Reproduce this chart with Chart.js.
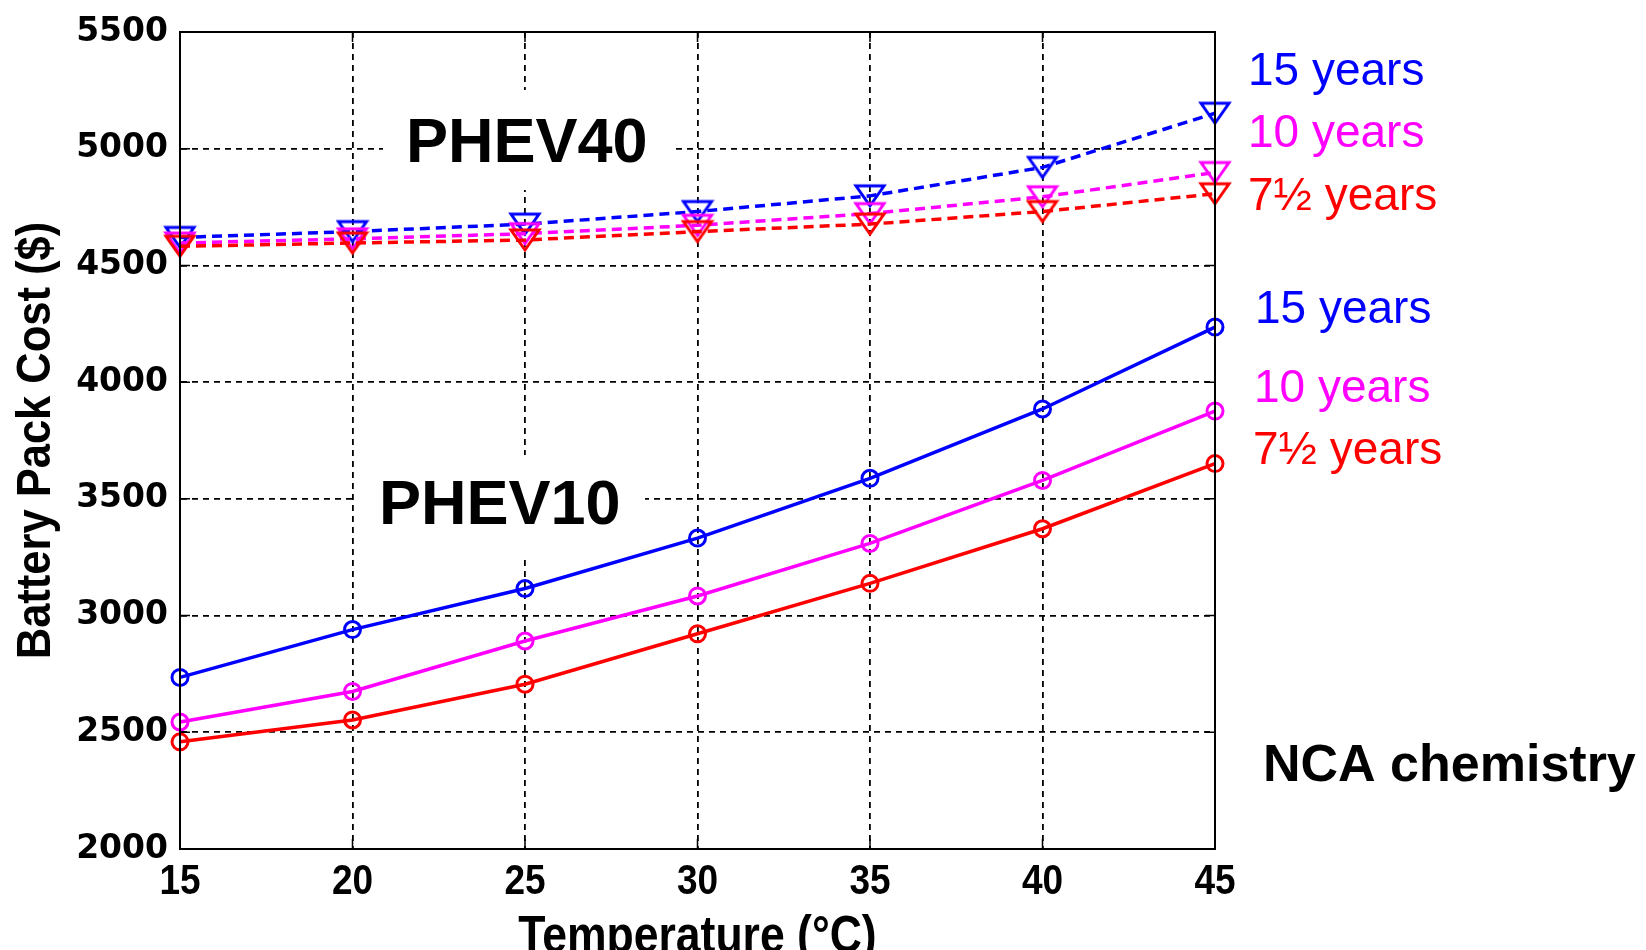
<!DOCTYPE html>
<html>
<head>
<meta charset="utf-8">
<script src="https://cdn.jsdelivr.net/npm/chart.js@4.4.0/dist/chart.umd.min.js"></script>
<style>
  html, body { margin: 0; padding: 0; background: #fff; overflow: hidden; }
</style>
</head>
<body>
<canvas id="myChart" width="1646" height="950"></canvas>
<script>
const temps = [15, 20, 25, 30, 35, 40, 45];
const xTicks = [15, 20, 25, 30, 35, 40, 45];
const yTicks = [2000, 2500, 3000, 3500, 4000, 4500, 5000, 5500];

// PHEV10 (solid, circles)
const phev10_15yr = [2735, 2940, 3116, 3332, 3588, 3885, 4236];
const phev10_10yr = [2544, 2675, 2891, 3084, 3309, 3579, 3876];
const phev10_7yr = [2459, 2553, 2706, 2922, 3138, 3372, 3651];

// PHEV40 (dashed, triangles)
const phev40_15yr = [4620, 4645, 4677, 4731, 4798, 4920, 5152];
const phev40_10yr = [4596, 4614, 4636, 4672, 4722, 4794, 4898];
const phev40_7yr = [4582, 4596, 4609, 4645, 4677, 4731, 4807];

const BLUE = "#0000ff", MAGENTA = "#ff00ff", RED = "#ff0000";
const ctx = document.getElementById("myChart").getContext("2d");

function triMarker(color) {
  const c = document.createElement("canvas");
  c.width = 34;
  c.height = 28;
  const g = c.getContext("2d");
  g.strokeStyle = color;
  g.lineWidth = 3;
  g.lineJoin = "miter";
  g.beginPath();
  g.moveTo(3, 4);
  g.lineTo(31, 4);
  g.lineTo(17, 24);
  g.closePath();
  g.stroke();
  return c;
}

function toPoints(vals) {
  return vals.map((v, i) => ({ x: temps[i], y: v }));
}

function solidSet(vals, color) {
  return {
    data: toPoints(vals),
    borderColor: color,
    borderWidth: 3.5,
    pointStyle: "circle",
    pointRadius: 8,
    pointBorderWidth: 3,
    pointBorderColor: color,
    pointBackgroundColor: "rgba(0,0,0,0)",
    fill: false,
    tension: 0,
    clip: false,
  };
}

function dashedSet(vals, color) {
  return {
    data: toPoints(vals),
    borderColor: color,
    borderWidth: 3.5,
    borderDash: [10, 6],
    pointStyle: triMarker(color),
    pointRadius: 14,
    fill: false,
    tension: 0,
    clip: false,
  };
}

function narrowText(c, text, x, y, sx) {
  c.save();
  c.translate(x, y);
  c.scale(sx, 1);
  c.fillText(text, 0, 0);
  c.restore();
}

const frame = {
  id: "frame",
  beforeDatasetsDraw(chart) {
    const c = chart.ctx;
    c.save();
    c.font = "bold 63px 'Liberation Sans', Arial, sans-serif";
    c.textBaseline = "alphabetic";
    c.fillStyle = "#fff";
    c.fillRect(383, 90, 290, 100);
    c.fillRect(357, 455, 288, 100);
    c.fillStyle = "#000";
    c.fillText("PHEV40", 406, 162);
    c.fillText("PHEV10", 379, 524);
    c.restore();
  },
  afterDraw(chart) {
    const c = chart.ctx;
    const a = chart.chartArea;
    const xs = chart.scales.x, ys = chart.scales.y;
    c.save();
    // inward tick marks
    c.strokeStyle = "#000";
    c.lineWidth = 1.5;
    c.beginPath();
    xTicks.forEach((t) => {
      const px = xs.getPixelForValue(t);
      c.moveTo(px, a.bottom); c.lineTo(px, a.bottom - 10);
      c.moveTo(px, a.top); c.lineTo(px, a.top + 10);
    });
    yTicks.forEach((t) => {
      const py = ys.getPixelForValue(t);
      c.moveTo(a.left, py); c.lineTo(a.left + 10, py);
      c.moveTo(a.right, py); c.lineTo(a.right - 10, py);
    });
    c.stroke();
    // box
    c.lineWidth = 2;
    c.strokeRect(a.left, a.top, a.right - a.left, a.bottom - a.top);

    // x tick labels (condensed)
    c.fillStyle = "#000";
    c.textAlign = "center";
    c.textBaseline = "alphabetic";
    c.font = "bold 43px 'Liberation Sans', Arial, sans-serif";
    xTicks.forEach((t) => {
      narrowText(c, String(t), xs.getPixelForValue(t), 894, 0.86);
    });

    // axis titles
    c.font = "bold 52px 'Liberation Sans', Arial, sans-serif";
    narrowText(c, "Temperature (°C)", (a.left + a.right) / 2, 952, 0.856);
    c.save();
    c.translate(50, (a.top + a.bottom) / 2);
    c.rotate(-Math.PI / 2);
    c.font = "bold 48px 'Liberation Sans', Arial, sans-serif";
    c.scale(0.906, 1);
    c.fillText("Battery Pack Cost ($)", 0, 0);
    c.restore();

    // series labels
    c.textAlign = "left";
    c.font = "46px 'Liberation Sans', Arial, sans-serif";
    c.fillStyle = BLUE; c.fillText("15 years", 1248, 85);
    c.fillStyle = MAGENTA; c.fillText("10 years", 1248, 147);
    c.fillStyle = RED; c.fillText("7½ years", 1248, 210);
    c.fillStyle = BLUE; c.fillText("15 years", 1255, 323);
    c.fillStyle = MAGENTA; c.fillText("10 years", 1254, 402);
    c.fillStyle = RED; c.fillText("7½ years", 1253, 464);

    c.fillStyle = "#000";
    c.font = "bold 52px 'Liberation Sans', Arial, sans-serif";
    c.fillText("NCA chemistry", 1263, 781);
    c.restore();
  },
};

new Chart(ctx, {
  type: "line",
  data: {
    datasets: [
      solidSet(phev10_7yr, RED),
      solidSet(phev10_10yr, MAGENTA),
      solidSet(phev10_15yr, BLUE),
      dashedSet(phev40_7yr, RED),
      dashedSet(phev40_10yr, MAGENTA),
      dashedSet(phev40_15yr, BLUE),
    ],
  },
  options: {
    responsive: false,
    animation: false,
    devicePixelRatio: 1,
    layout: { padding: { top: 32, right: 431, left: 0, bottom: 0 } },
    plugins: { legend: { display: false }, tooltip: { enabled: false } },
    scales: {
      x: {
        type: "linear",
        min: 15,
        max: 45,
        afterBuildTicks: (s) => { s.ticks = xTicks.map((v) => ({ value: v })); },
        afterFit: (s) => { s.height = 101; },
        ticks: { display: false },
        grid: { color: "#000", lineWidth: 1.8, drawTicks: false },
        border: { display: true, color: "#000", width: 2, dash: [6, 5] },
      },
      y: {
        type: "linear",
        min: 2000,
        max: 5500,
        afterBuildTicks: (s) => { s.ticks = yTicks.map((v) => ({ value: v })); },
        afterFit: (s) => { s.width = 180; },
        ticks: {
          color: "#000",
          padding: 12,
          callback: (v) => String(v),
          font: { family: "'DejaVu Sans', sans-serif", weight: "bold", size: 33 },
        },
        grid: { color: "#000", lineWidth: 1.8, drawTicks: false },
        border: { display: true, color: "#000", width: 2, dash: [6, 5] },
      },
    },
  },
  plugins: [frame],
});
</script>
</body>
</html>
